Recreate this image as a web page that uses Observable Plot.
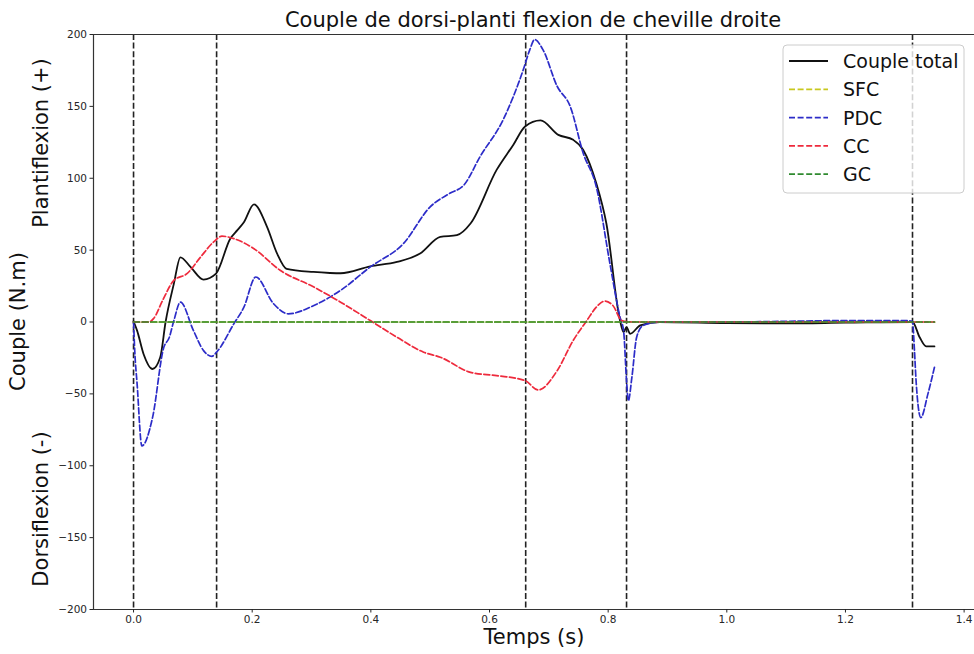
<!DOCTYPE html>
<html><head><meta charset="utf-8">
<script src="https://cdn.jsdelivr.net/npm/d3@7"></script>
<script src="https://cdn.jsdelivr.net/npm/@observablehq/plot@0.6"></script>
<style>
body{margin:0;background:#fff;}
#chart{width:974px;height:654px;}
</style></head><body><div id="chart"></div>
<script>
const xTicks = [0, 0.2, 0.4, 0.6, 0.8, 1.0, 1.2, 1.4];
const yTicks = [-200, -150, -100, -50, 0, 50, 100, 150, 200];
const eventTimes = [0, 0.140, 0.661, 0.831, 1.313];

const seriesNames = ["Couple total", "SFC", "PDC", "CC", "GC"];
const seriesColors = ["#111111", "#c8c81e", "#2c2cc8", "#ee2a3c", "#2f8a2f"];

const totalT = [0, 0.006, 0.017, 0.032, 0.045, 0.054, 0.068, 0.079, 0.096, 0.118, 0.139, 0.163, 0.175, 0.186, 0.203, 0.225, 0.242, 0.258, 0.303, 0.331, 0.349, 0.399, 0.444, 0.483, 0.517, 0.545, 0.568, 0.612, 0.640, 0.660, 0.686, 0.716, 0.741, 0.758, 0.780, 0.797, 0.820, 0.826, 0.831, 0.837, 0.854, 0.887, 1.0, 1.1, 1.2, 1.313, 1.325, 1.336, 1.35];
const totalV = [0.5, -6, -22.4, -32.7, -24.5, 0, 26.7, 45, 38.3, 29.5, 33.6, 57.9, 63.9, 69.4, 81.8, 66.2, 47.6, 37, 34.8, 34.1, 33.9, 38.7, 41.8, 47.6, 59.2, 60.4, 68.5, 105.8, 123.2, 136, 140.2, 130.2, 126.7, 119.7, 96.5, 68.5, 1, -7, -3.6, -8.2, -2.4, 0, -0.8, -1, -0.5, 0, -10.6, -17, -17];

const sfcT = [0, 1.35];
const sfcV = [0, 0];

const pdcT = [0, 0.002, 0.006, 0.014, 0.032, 0.051, 0.060, 0.068, 0.079, 0.101, 0.118, 0.132, 0.140, 0.169, 0.186, 0.206, 0.236, 0.261, 0.304, 0.331, 0.349, 0.399, 0.455, 0.500, 0.533, 0.557, 0.584, 0.623, 0.657, 0.668, 0.676, 0.690, 0.714, 0.736, 0.758, 0.780, 0.803, 0.820, 0.826, 0.831, 0.834, 0.840, 0.848, 0.859, 0.887, 1.0, 1.1, 1.2, 1.3, 1.313, 1.316, 1.319, 1.327, 1.339, 1.35];
const pdcV = [0, -20, -43, -86.2, -66.5, -17.6, -11, 1, 13.8, -6, -19.9, -23.9, -21, -1.3, 10.3, 31.3, 12.7, 5.7, 11.5, 17.3, 22, 38.3, 54.6, 80.1, 89.5, 95.3, 115, 140.7, 175.6, 189.5, 196.5, 189.5, 164, 150, 117.4, 94.1, 40.6, 3.4, -6, -40.8, -54.8, -38.5, -10.6, -2.4, 0, 0, 0.5, 1, 1, 0.5, -17.6, -40.8, -66.5, -50, -31.5];

const ccT = [0, 0.026, 0.034, 0.049, 0.068, 0.090, 0.113, 0.135, 0.149, 0.169, 0.203, 0.247, 0.304, 0.349, 0.399, 0.444, 0.489, 0.517, 0.568, 0.612, 0.660, 0.682, 0.714, 0.741, 0.764, 0.780, 0.794, 0.808, 0.823, 0.84, 1.0, 1.35];
const ccV = [0, 0, 2.5, 15, 29, 33.6, 45.2, 55.7, 59.7, 58, 51, 36, 24.3, 13.8, 1, -10.6, -21, -24.5, -35, -37.3, -40.8, -47.3, -33.9, -12.9, 1, 10.3, 14.5, 11.5, 1, 0, 0, 0];

const gcT = [0, 1.35];
const gcV = [0, 0];

const zip = (ts, vs) => ts.map((t, i) => ({t, v: vs[i]}));
const total = zip(totalT, totalV);
const sfc = zip(sfcT, sfcV);
const pdc = zip(pdcT, pdcV);
const cc = zip(ccT, ccV);
const gc = zip(gcT, gcV);

const dash = "6,2.6";
const fmtY = d => (d < 0 ? "\u2212" : "") + Math.abs(d);

const plot = Plot.plot({
  width: 974, height: 654,
  marginLeft: 93, marginRight: 0, marginTop: 34, marginBottom: 45,
  x: {domain: [-0.0675, 1.4175]},
  y: {domain: [-200, 200]},
  style: {fontFamily: "DejaVu Sans, sans-serif", fontSize: "10.5px", color: "#262626", background: "white"},
  marks: [
    Plot.ruleX(eventTimes, {stroke: "#222", strokeWidth: 1.6, strokeDasharray: dash}),
    Plot.line(total, {x: "t", y: "v", stroke: seriesColors[0], strokeWidth: 1.8, curve: "monotone-x"}),
    Plot.line(sfc, {x: "t", y: "v", stroke: seriesColors[1], strokeWidth: 1.7, strokeDasharray: dash}),
    Plot.line(pdc, {x: "t", y: "v", stroke: seriesColors[2], strokeWidth: 1.7, strokeDasharray: dash, curve: "monotone-x"}),
    Plot.line(cc, {x: "t", y: "v", stroke: seriesColors[3], strokeWidth: 1.7, strokeDasharray: dash, curve: "monotone-x"}),
    Plot.line(gc, {x: "t", y: "v", stroke: seriesColors[4], strokeWidth: 1.7, strokeDasharray: dash}),
    Plot.ruleX([-0.0675], {stroke: "#333", strokeWidth: 1.2}),
    Plot.ruleY([-200, 200], {stroke: "#333", strokeWidth: 1.2}),
    Plot.axisX({ticks: xTicks, tickFormat: d => d.toFixed(1), tickSize: 3.5, tickPadding: 3, label: null}),
    Plot.axisY({ticks: yTicks, tickFormat: fmtY, tickSize: 3.5, tickPadding: 3, label: null})
  ]
});
document.getElementById("chart").appendChild(plot);

const svg = d3.select(plot);
const font = "DejaVu Sans, sans-serif";
svg.append("text").attr("x", 533).attr("y", 27).attr("text-anchor", "middle")
  .attr("font-family", font).attr("font-size", 21).attr("fill", "#111")
  .text("Couple de dorsi-planti flexion de cheville droite");
svg.append("text").attr("x", 534).attr("y", 644).attr("text-anchor", "middle")
  .attr("font-family", font).attr("font-size", 21).attr("fill", "#111")
  .text("Temps (s)");
const yLabels = [
  {text: "Couple (N.m)", x: 25, y: 321.5},
  {text: "Plantiflexion (+)", x: 48, y: 143},
  {text: "Dorsiflexion (-)", x: 48, y: 509}
];
for (const l of yLabels) {
  svg.append("text").attr("transform", `translate(${l.x},${l.y}) rotate(-90)`)
    .attr("text-anchor", "middle").attr("font-family", font).attr("font-size", 21).attr("fill", "#111")
    .text(l.text);
}

// legend
const lg = svg.append("g").attr("transform", "translate(783,45)");
lg.append("rect").attr("width", 181).attr("height", 148).attr("rx", 4)
  .attr("fill", "rgba(255,255,255,0.8)").attr("stroke", "#ccc").attr("stroke-width", 1);
seriesNames.forEach((name, i) => {
  const yy = 16 + i * 28.3;
  lg.append("line").attr("x1", 6).attr("x2", 45).attr("y1", yy).attr("y2", yy)
    .attr("stroke", seriesColors[i]).attr("stroke-width", 1.8)
    .attr("stroke-dasharray", i === 0 ? null : dash);
  lg.append("text").attr("x", 60).attr("y", yy + 7).attr("text-anchor", "start")
    .attr("font-family", font).attr("font-size", 19).attr("fill", "#111").text(name);
});
</script>
</body></html>
